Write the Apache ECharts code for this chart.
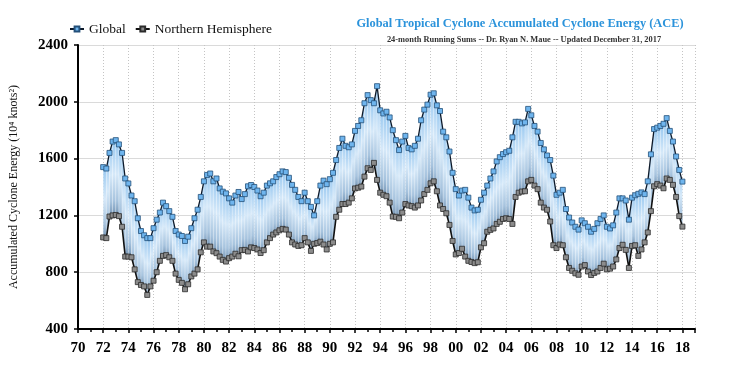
<!DOCTYPE html>
<html>
<head>
<meta charset="utf-8">
<script src="https://cdn.jsdelivr.net/npm/echarts@6/dist/echarts.min.js"></script>
<style>
html,body{margin:0;padding:0;background:#fff;}
#chart{width:735px;height:371px;}
</style>
</head>
<body>
<div id="chart"></div>
<script>
// Quarterly samples, starting January 1972, every 0.25 year, ending Dec 2017
const startYear = 1972;
const stepYears = 0.25;
const globalAce = [
  1540,1530,1640,1720, 1730,1700,1640,1460, 1425,1340,1300,1180, 1090,1060,1040,1040,
  1110,1170,1220,1290, 1265,1230,1190,1090, 1065,1055,1020,1050, 1110,1180,1240,1330,
  1440,1485,1495,1440, 1460,1390,1367,1355, 1320,1290,1340,1365, 1315,1350,1405,1414,
  1400,1375,1335,1360, 1410,1426,1440,1470, 1490,1510,1505,1465, 1415,1380,1330,1300,
  1360,1300,1260,1200, 1300,1410,1445,1420, 1455,1500,1590,1675, 1740,1690,1680,1700,
  1795,1830,1870,1990, 2047,2012,1990,2110, 1940,1918,1930,1890, 1800,1730,1660,1720,
  1760,1675,1665,1690, 1740,1870,1945,1980, 2050,2060,1975,1935, 1790,1750,1650,1500,
  1385,1340,1375,1380, 1325,1255,1235,1240, 1310,1360,1410,1460, 1510,1580,1610,1632,
  1645,1655,1750,1859, 1859,1848,1855,1950, 1905,1830,1790,1710, 1665,1622,1590,1480,
  1345,1360,1380,1245, 1185,1150,1120,1100, 1165,1145,1120,1085, 1105,1145,1175,1200,
  1120,1108,1130,1220, 1320,1320,1305,1170, 1325,1342,1352,1362, 1350,1440,1630,1808,
  1818,1830,1845,1885, 1795,1720,1615,1520, 1438
];
const nhAce = [
  1045,1040,1192,1200, 1203,1195,1120,910, 910,905,820,730, 710,700,640,700,
  740,800,880,915, 920,905,880,790, 746,725,680,715, 770,790,820,940,
  1010,980,980,946, 934,910,887,875, 899,910,930,912, 955,957,946,975,
  970,960,935,955, 1010,1040,1065,1080, 1095,1105,1100,1065, 1010,995,985,990,
  1040,1010,950,1000, 1005,1015,995,960, 1000,1010,1190,1240, 1280,1280,1290,1320,
  1390,1395,1403,1473, 1532,1520,1570,1450, 1360,1345,1335,1290, 1192,1190,1180,1220,
  1280,1270,1265,1255, 1270,1305,1350,1380, 1426,1440,1370,1270, 1245,1215,1133,1020,
  925,935,965,910, 880,872,864,870, 975,1004,1085,1098, 1108,1140,1155,1175,
  1180,1175,1140,1330, 1360,1368,1370,1440, 1450,1410,1385,1290, 1255,1240,1157,990,
  970,995,990,905, 830,810,792,782, 840,850,805,780, 795,805,830,860,
  820,825,840,890, 970,993,957,830, 985,990,915,960, 1010,1080,1230,1405,
  1420,1410,1391,1460, 1450,1415,1330,1195, 1121
];
const yTicks = [400, 800, 1200, 1600, 2000, 2400];

const years = globalAce.map((_, i) => startYear + i * stepYears);
const gData = years.map((y, i) => [y, globalAce[i]]);
const nData = years.map((y, i) => [y, nhAce[i]]);
const bandData = years.map((y, i) => [y, globalAce[i], nhAce[i]]);

const serif = '"Liberation Serif","DejaVu Serif",serif';
const chart = echarts.init(document.getElementById('chart'), null, {renderer: 'canvas'});

const bandGradient = () => new echarts.graphic.LinearGradient(0, 0, 0, 1, [
  {offset: 0, color: '#94c6f0'},
  {offset: 0.45, color: '#d6e9f9'},
  {offset: 0.8, color: '#a6c3de'},
  {offset: 1, color: '#7090b0'}
]);

chart.setOption({
  animation: false,
  title: [
    {text: 'Global Tropical Cyclone Accumulated Cyclone Energy (ACE)', left: 515, top: 13, textAlign: 'center',
     textStyle: {fontFamily: serif, fontSize: 12.4, fontWeight: 'bold', color: '#2b93db'}},
    {text: '24-month Running Sums -- Dr. Ryan N. Maue -- Updated December 31, 2017', left: 519, top: 31, textAlign: 'center',
     textStyle: {fontFamily: serif, fontSize: 8.4, fontWeight: 'bold', color: '#333'}}
  ],
  legend: {
    left: 64, top: 17, itemGap: 9, itemWidth: 14, itemHeight: 6,
    textStyle: {fontFamily: serif, fontSize: 13.5, color: '#111'},
    data: ['Global', 'Northern Hemisphere']
  },
  grid: {left: 71, right: 40, top: 45, bottom: 42, containLabel: false},
  xAxis: {
    type: 'value', min: 1970, max: 2019, interval: 2,
    axisLine: {lineStyle: {color: '#000', width: 2}},
    axisTick: {show: true, length: 4, lineStyle: {color: '#000', width: 1.5}},
    minorTick: {show: true, splitNumber: 2, length: 3, lineStyle: {color: '#000', width: 1.5}},
    axisLabel: {
      fontFamily: serif, fontSize: 15, fontWeight: 'bold', color: '#000', margin: 12,
      formatter: v => (Math.round(v) % 2 === 0 && v <= 2018) ? String(Math.round(v) % 100).padStart(2, '0') : ''
    },
    splitLine: {show: true, lineStyle: {color: '#c4c4c4', type: [1, 2], width: 1}}
  },
  yAxis: {
    type: 'value', min: yTicks[0], max: yTicks[yTicks.length - 1], interval: 400,
    name: 'Accumulated Cyclone Energy (10\u2074 knots\u00b2)', nameLocation: 'middle', nameGap: 58,
    nameTextStyle: {fontFamily: serif, fontSize: 12, color: '#111'},
    axisLine: {show: true, lineStyle: {color: '#000', width: 2}},
    axisTick: {show: true, length: 4, lineStyle: {color: '#000', width: 1.5}},
    axisLabel: {fontFamily: serif, fontSize: 15, fontWeight: 'bold', color: '#000', margin: 10,
      formatter: v => String(v)},
    splitLine: {show: true, lineStyle: {color: '#dadada', width: 1}}
  },
  series: [
    {
      type: 'custom', name: 'band', silent: true, z: 1,
      data: bandData,
      encode: {x: 0, y: [1, 2]},
      renderItem: (params, api) => {
        const i = params.dataIndex;
        if (i >= bandData.length - 1) return null;
        const a = bandData[i], b = bandData[i + 1];
        const p1 = api.coord([a[0], a[1]]);
        const p2 = api.coord([b[0], b[1]]);
        const p3 = api.coord([b[0], b[2]]);
        const p4 = api.coord([a[0], a[2]]);
        return {
          type: 'polygon',
          shape: {points: [p1, p2, p3, p4]},
          style: {fill: bandGradient(), stroke: 'rgba(255,255,255,0.4)', lineWidth: 0.5}
        };
      }
    },
    {
      type: 'line', name: 'Northern Hemisphere', data: nData, z: 3,
      symbol: 'rect', symbolSize: 5, showAllSymbol: true,
      lineStyle: {color: '#111', width: 1.6},
      itemStyle: {color: '#8c8c8c', borderColor: '#2b2b2b', borderWidth: 0.8}
    },
    {
      type: 'line', name: 'Global', data: gData, z: 4,
      symbol: 'rect', symbolSize: 5, showAllSymbol: true,
      lineStyle: {color: '#0e1a2a', width: 1.3},
      itemStyle: {color: '#6fb5ee', borderColor: '#24507a', borderWidth: 0.8}
    }
  ]
});
</script>
</body>
</html>
